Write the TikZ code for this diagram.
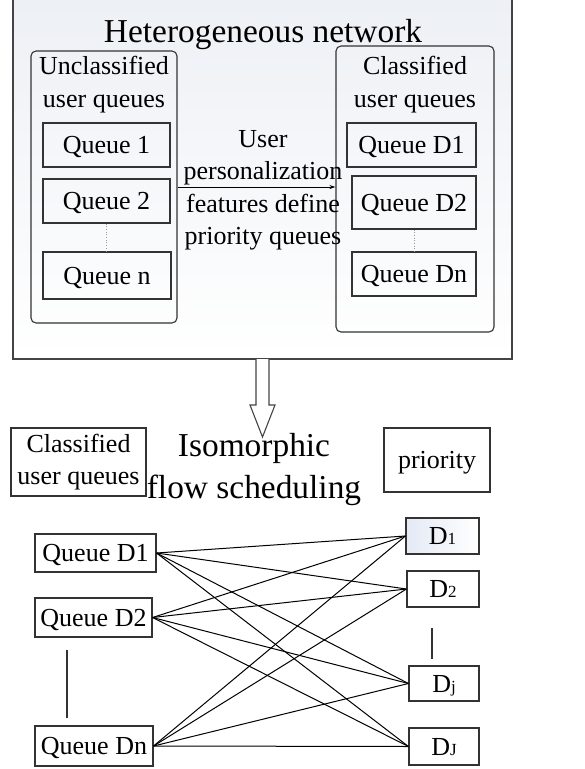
\documentclass[tikz,border=0pt]{standalone}
\usepackage{fontspec}
\setmainfont{Liberation Serif}
\usetikzlibrary{arrows.meta}
\definecolor{bc}{HTML}{333333}
\definecolor{oc}{HTML}{444444}
\definecolor{bgc}{HTML}{EDF0F5}
\definecolor{dfill}{HTML}{E4E9F4}
\newcommand\myfs{\fontsize{26}{32}\selectfont}
\newcommand\myfb{\fontsize{33.4}{42}\selectfont}
\newcommand\mysub{\fontsize{17}{17}\selectfont}
\begin{document}
\begin{tikzpicture}[x=1pt,y=-1pt,
  qbox/.style={draw=bc,line width=1.1pt,inner sep=0pt,font=\myfs,text height=17pt,text depth=0pt},
  rbox/.style={draw=bc,line width=1.1pt,rounded corners=5pt,inner sep=0pt},
  lbl/.style={inner sep=0pt,anchor=base,font=\myfs},
  big/.style={inner sep=0pt,anchor=base,font=\myfb},
  link/.style={draw=black,line width=1pt},
  dots/.style={draw=black!40,line width=0.7pt,dotted}]
\useasboundingbox (0,0) rectangle (585,769);
% outer box
\fill[top color=bgc,bottom color=white] (13,0) rectangle (512,359);
\draw[draw=oc,line width=1.1pt] (13,0) -- (13,359) -- (512,359) -- (512,0);
\node[big] (title) at (263,42) {Heterogeneous network};
% left rounded box
\node[rbox,minimum width=146pt,minimum height=272pt] (lb) at (104,187) {};
\node[lbl] (lt1) at (104,74) {Unclassified};
\node[lbl] (lt2) at (104,107) {user queues};
\node[qbox,minimum width=127pt,minimum height=44pt] (q1) at (106.5,145) {Queue 1};
\node[qbox,minimum width=127pt,minimum height=44pt] (q2) at (106.5,201) {Queue 2};
\node[qbox,minimum width=128pt,minimum height=47pt] (qn) at (107,275.5) {Queue n};
\draw[dots] (q2.south) -- (q2.south |- qn.north);
% right rounded box
\node[rbox,minimum width=158pt,minimum height=286pt] (rb) at (415,189) {};
\node[lbl] (rt1) at (415,74) {Classified};
\node[lbl] (rt2) at (415,107) {user queues};
\node[qbox,minimum width=129pt,minimum height=44pt] (r1) at (411.5,145) {Queue D1};
\node[qbox,minimum width=124pt,minimum height=53pt] (r2) at (414,202.5) {Queue D2};
\node[qbox,minimum width=124pt,minimum height=44pt] (rn) at (414,274) {Queue Dn};
\draw[dots] (r2.south) -- (r2.south |- rn.north);
% arrow between boxes
\draw[line width=0.9pt,-{Stealth[length=6pt,width=4pt]}] (lb.east) -- (lb.east -| rb.west);
\node[lbl] (a1) at (263,147) {User};
\node[lbl] (a2) at (263,179.5) {personalization};
\node[lbl] (a3) at (263,212) {features define};
\node[lbl] (a4) at (263,244.5) {priority queues};
% hollow arrow
\draw[draw=oc,fill=white,line width=1.1pt] (256,359) -- (256,405) -- (250,405) -- (262.5,437) -- (275,405) -- (269,405) -- (269,359);
% lower headers
\node[draw=bc,line width=1.1pt,inner sep=0pt,minimum width=135pt,minimum height=68pt,align=center,font=\myfs] (cuq) at (78.5,462) {Classified\\user queues};
\node[big] (iso1) at (254,456) {Isomorphic};
\node[big] (iso2) at (254,498) {flow scheduling};
\node[qbox,minimum width=106pt,minimum height=64pt] (pri) at (437,460) {priority};
% lower queues
\node[qbox,minimum width=121pt,minimum height=38pt] (qd1) at (95.5,553) {Queue D1};
\node[qbox,minimum width=117pt,minimum height=39pt] (qd2) at (93.5,617.5) {Queue D2};
\node[qbox,minimum width=118pt,minimum height=40pt] (qdn) at (94,746) {Queue Dn};
\coordinate (lv1) at (67,650);
\coordinate (lv2) at (67,718);
\draw[line width=1.1pt,draw=bc] (lv1) -- (lv2);
% priorities
\node[qbox,left color=dfill,right color=white,minimum width=73pt,minimum height=36pt] (d1) at (442.5,536) {D{\mysub 1}};
\node[qbox,minimum width=72pt,minimum height=36pt] (d2) at (443,589) {D{\mysub 2}};
\node[qbox,minimum width=70pt,minimum height=35pt] (dj) at (444,683.5) {D{\mysub j}};
\node[qbox,minimum width=70pt,minimum height=37pt] (dJ) at (444,746.5) {D{\mysub J}};
\coordinate (rv1) at (432,628);
\coordinate (rv2) at (432,659);
\draw[line width=1.1pt,draw=bc] (rv1) -- (rv2);
% links
\foreach \s in {qd1,qd2,qdn}{
  \foreach \t in {d1,d2,dj,dJ}{
    \draw[link] (\s.east) -- (\t.west);
  }
}
\end{tikzpicture}
\end{document}
